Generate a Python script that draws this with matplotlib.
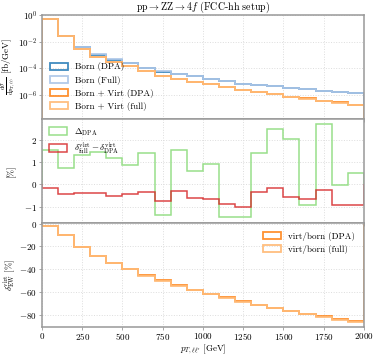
import matplotlib
matplotlib.use("Agg")
import matplotlib.pyplot as plt
from matplotlib.patches import Patch
import numpy as np

plt.rcParams["font.family"] = ["cmr10", "DejaVu Serif"]
plt.rcParams["mathtext.fontset"] = "cm"
plt.rcParams["axes.formatter.use_mathtext"] = True
plt.rcParams["axes.unicode_minus"] = True

bin_edges = np.arange(0, 2001, 100)

# log10 of dsigma/dpT [fb/GeV]
born_dpa_log = [-0.30, -1.56, -2.44, -2.99, -3.36, -3.60, -3.97, -4.25, -4.47, -4.62,
                -4.79, -4.99, -5.16, -5.26, -5.36, -5.50, -5.58, -5.70, -5.80, -5.90]
born_full_log = [-0.30, -1.56, -2.43, -2.97, -3.34, -3.59, -3.96, -4.24, -4.46, -4.61,
                 -4.78, -4.98, -5.15, -5.25, -5.35, -5.49, -5.57, -5.69, -5.79, -5.89]
virt_dpa_log = [-0.31, -1.60, -2.57, -3.13, -3.55, -3.83, -4.23, -4.55, -4.81, -5.00,
                -5.21, -5.43, -5.66, -5.80, -5.95, -6.14, -6.27, -6.44, -6.57, -6.76]
virt_full_log = [-0.31, -1.60, -2.57, -3.13, -3.55, -3.84, -4.24, -4.55, -4.82, -5.01,
                 -5.22, -5.44, -5.67, -5.81, -5.96, -6.15, -6.28, -6.45, -6.58, -6.77]

delta_dpa = [1.57, 0.73, 1.35, 1.46, 1.19, 0.89, 1.43, -1.40, 1.56, 0.60,
             0.91, -1.47, -1.47, 1.41, 2.50, 2.04, -0.91, 2.75, -0.01, 0.51]
delta_diff = [-0.16, -0.41, -0.37, -0.39, -0.50, -0.41, -0.35, -0.73, -0.31, -0.61,
              -0.64, -0.88, -1.03, -0.34, -0.15, -0.58, -0.64, -0.26, -0.94, -0.91]

ratio_dpa = [-2.3, -10.1, -20.8, -28.6, -34.9, -40.1, -45.6, -49.6, -54.3, -58.3,
             -61.8, -64.6, -68.0, -71.5, -74.1, -77.0, -79.3, -81.6, -83.6, -86.0]
ratio_full = [-2.4, -10.2, -20.9, -28.7, -35.0, -40.3, -45.8, -50.4, -54.5, -58.5,
              -62.0, -65.5, -68.8, -71.7, -74.3, -77.2, -79.5, -81.8, -84.5, -86.3]

spine_color = "#999999"
grid_kw = dict(color="#dddddd", linestyle=":", linewidth=0.7)
legend_kw = dict(fontsize=6.5, frameon=False, handlelength=2.0, handleheight=0.9,
                 labelspacing=0.45)


def draw_steps(axis, values, color, label, baseline, alpha=0.85, linewidth=1.3):
    axis.stairs(values, bin_edges, baseline=baseline, color=color,
                linewidth=linewidth, alpha=alpha)
    return Patch(facecolor="none", edgecolor=color, linewidth=linewidth,
                 alpha=alpha, label=label)


figure, axes = plt.subplots(3, 1, figsize=(3.74, 3.55), dpi=100, sharex=True)
figure.subplots_adjust(left=0.112, right=0.973, top=0.958, bottom=0.08, hspace=0)
ax_top, ax_mid, ax_bot = axes

for axis in axes:
    for spine in axis.spines.values():
        spine.set_color(spine_color)
        spine.set_linewidth(1.1)
    axis.tick_params(labelsize=6.5, length=2, width=0.6, color=spine_color, pad=1.5)
    axis.grid(True, **grid_kw)
    axis.set_axisbelow(True)
    axis.set_xlim(0, 2000)
    axis.set_xticks(np.arange(0, 2001, 250))

# top panel
ax_top.set_yscale("log")
handles = [
    draw_steps(ax_top, 10 ** np.array(born_dpa_log), "#1f77b4", "Born (DPA)", 1e-12),
    draw_steps(ax_top, 10 ** np.array(born_full_log), "#aec7e8", "Born (Full)", 1e-12, 0.95),
    draw_steps(ax_top, 10 ** np.array(virt_dpa_log), "#ff7f0e", "Born + Virt (DPA)", 1e-12),
    draw_steps(ax_top, 10 ** np.array(virt_full_log), "#ffbb78", "Born + Virt (full)", 1e-12, 0.95),
]
ax_top.set_ylim(10 ** -7.8, 1)
ax_top.set_yticks([1e-6, 1e-4, 1e-2, 1e0])
ax_top.minorticks_off()
ax_top.set_ylabel(r"$\frac{\mathrm{d}\sigma}{\mathrm{d}p_{T,\ell\ell'}}$ [fb/GeV]",
                  fontsize=6.5, labelpad=0)
ax_top.set_title(r"$\mathrm{pp}\to\mathrm{ZZ}\to 4f$ (FCC-hh setup)", fontsize=7.2, pad=1)
ax_top.legend(handles=handles, loc="lower left", borderaxespad=0.5, **legend_kw)

# middle panel
handles = [
    draw_steps(ax_mid, delta_dpa, "#98df8a", r"$\Delta_{\mathrm{DPA}}$", 0, 1.0, 1.1),
    draw_steps(ax_mid, delta_diff, "#d62728",
               r"$\delta^{\mathrm{virt}}_{\mathrm{full}}-\delta^{\mathrm{virt}}_{\mathrm{DPA}}$",
               0, 0.85, 1.1),
]
ax_mid.set_ylim(-1.73, 2.97)
ax_mid.set_yticks([-1, 0, 1, 2])
ax_mid.set_ylabel("[%]", fontsize=6.5, labelpad=6)
ax_mid.legend(handles=handles, loc="upper left", borderaxespad=0.4,
              **{**legend_kw, "labelspacing": 0.3})

# bottom panel
handles = [
    draw_steps(ax_bot, ratio_dpa, "#ff7f0e", "virt/born (DPA)", 0),
    draw_steps(ax_bot, ratio_full, "#ffbb78", "virt/born (full)", 0, 0.95),
]
ax_bot.set_ylim(-90.6, 0.8)
ax_bot.set_yticks([-80, -60, -40, -20, 0])
ax_bot.set_ylabel(r"$\delta^{\mathrm{virt}}_{\mathrm{EW}}$ [%]", fontsize=6.5, labelpad=1)
ax_bot.set_xlabel(r"$p_{T,\ell\ell'}$ [GeV]", fontsize=6.5, labelpad=0)
ax_bot.legend(handles=handles, loc="upper right", borderaxespad=0.6, **legend_kw)

figure.savefig("out.png", dpi=100)
plt.close(figure)
